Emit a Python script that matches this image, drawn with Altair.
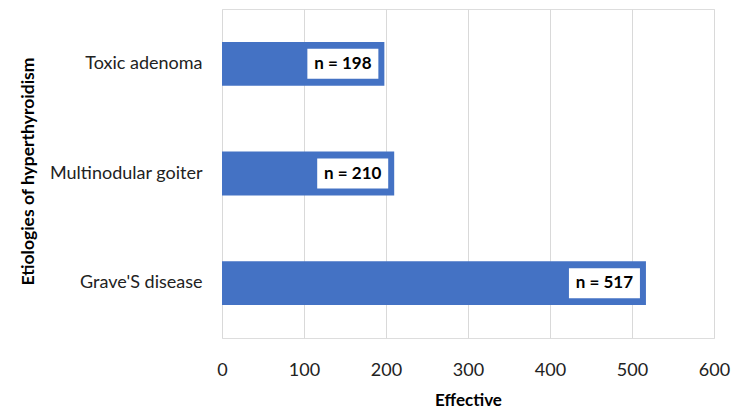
import altair as alt
import pandas as pd

categories = ["Toxic adenoma", "Multinodular goiter", "Grave'S disease"]
values = [198, 210, 517]
labels = ["n = 198", "n = 210", "n = 517"]

df = pd.DataFrame({"cat": categories, "value": values, "label": labels})

FONT = "Lato"

y_enc = alt.Y(
    "cat:N",
    sort=categories,
    scale=alt.Scale(paddingInner=0.6, paddingOuter=0.3),
    axis=alt.Axis(
        title="Etiologies of hyperthyroidism",
        titleFont=FONT, titleFontSize=17.5, titleFontWeight="bold", titleColor="black",
        titleAngle=-90, titleBaseline="middle", titleAlign="center",
        titleX=-194, titleY=162,
        labelFont=FONT, labelFontSize=18, labelColor="#222222", labelPadding=20,
        domain=False, ticks=False, grid=False,
    ),
)

x_scale = alt.Scale(domain=[0, 600], nice=False)
x_enc = alt.X(
    "value:Q",
    scale=x_scale,
    axis=alt.Axis(
        title="Effective",
        values=[0, 100, 200, 300, 400, 500, 600],
        titleFont=FONT, titleFontSize=17, titleFontWeight="bold", titleColor="black",
        titlePadding=13,
        labelFont=FONT, labelFontSize=18, labelColor="#222222", labelPadding=23,
        labelFlush=False,
        domain=False, ticks=False, grid=True, gridColor="#d9d9d9", gridWidth=1,
    ),
)

bars = alt.Chart(df).mark_bar(color="#4472C4").encode(x=x_enc, y=y_enc)

boxes = alt.Chart(df).mark_bar(color="white", size=30, xOffset=-77, x2Offset=-6).encode(
    x=alt.X("value:Q", scale=x_scale), x2="value:Q", y=alt.Y("cat:N", sort=categories)
)

texts = alt.Chart(df).mark_text(
    font=FONT, fontSize=17, fontWeight="bold", color="black", xOffset=-41.5, align="center", baseline="middle"
).encode(x=alt.X("value:Q", scale=x_scale), y=alt.Y("cat:N", sort=categories), text="label:N")

chart = (
    alt.layer(bars, boxes, texts)
    .properties(
        width=492,
        height=329,
        autosize=alt.AutoSizeParams(type="none"),
        padding={"left": 222, "top": 9, "right": 21, "bottom": 79},
    )
    .configure_view(strokeWidth=0)
    .configure(background="white")
)

chart.save("out.html", embed_options={"renderer": "svg", "actions": False})
